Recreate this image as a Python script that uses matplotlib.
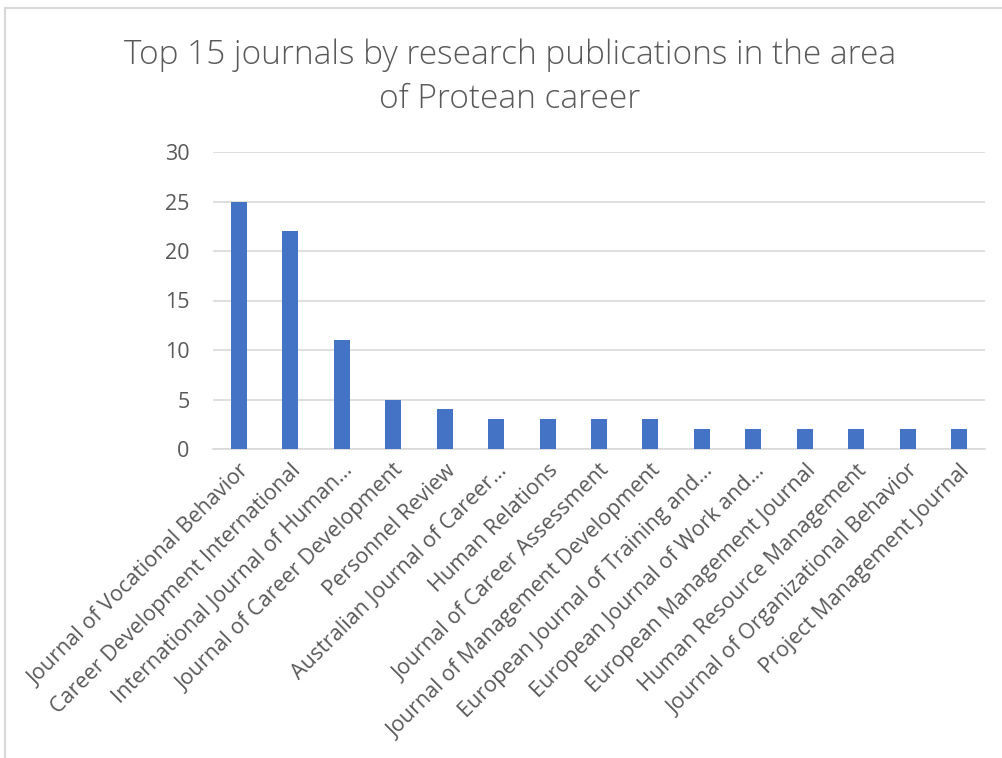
import matplotlib
matplotlib.use("Agg")
import matplotlib.pyplot as plt
from matplotlib.lines import Line2D

journals = [
    "Journal of Vocational Behavior",
    "Career Development International",
    "International Journal of Human…",
    "Journal of Career Development",
    "Personnel Review",
    "Australian Journal of Career…",
    "Human Relations",
    "Journal of Career Assessment",
    "Journal of Management Development",
    "European Journal of Training and…",
    "European Journal of Work and…",
    "European Management Journal",
    "Human Resource Management",
    "Journal of Organizational Behavior",
    "Project Management Journal",
]
publications = [25, 22, 11, 5, 4, 3, 3, 3, 3, 2, 2, 2, 2, 2, 2]
yticks = [0, 5, 10, 15, 20, 25, 30]
title = "Top 15 journals by research publications in the area\nof Protean career"

plt.rcParams['font.family'] = ['Open Sans', 'DejaVu Sans']
txt = '#595959'

fig = plt.figure(figsize=(10.03, 7.58), dpi=100)
ax = fig.add_axes([213/1003, 1-449/758, (985-213)/1003, (449-152)/758])

x = list(range(len(journals)))
ax.bar(x, publications, width=0.31, color='#4472c4', zorder=3)
ax.set_xlim(-0.5, len(journals)-0.5)
ax.set_ylim(0, 30)
ax.set_yticks(yticks)
ax.set_yticklabels([str(v) for v in yticks], fontsize=15.5, color=txt)
ax.set_xticks(x)
ax.set_xticklabels(journals, rotation=45, ha='right', va='top', rotation_mode='anchor',
                   fontsize=15.5, color=txt)
ax.tick_params(axis='both', length=0)
ax.tick_params(axis='x', pad=8)
ax.tick_params(axis='y', pad=17)
ax.grid(axis='y', color='#d9d9d9', linewidth=1.2, zorder=0)
for s in ['top', 'right', 'left']:
    ax.spines[s].set_visible(False)
ax.spines['bottom'].set_color('#d9d9d9')
ax.spines['bottom'].set_linewidth(1.2)

fig.text(510/1003, 1-77/758, title, ha='center', va='center', fontsize=24,
         fontweight='light', color=txt, linespacing=1.4)

# chart border (top and left)
fig.add_artist(Line2D([5.5/1003, 1], [1-8/758, 1-8/758], color='#d9d9d9', lw=1.5,
                      transform=fig.transFigure))
fig.add_artist(Line2D([5.5/1003, 5.5/1003], [0, 1-8/758], color='#d9d9d9', lw=1.5,
                      transform=fig.transFigure))

fig.savefig('out.png', dpi=100, facecolor='white')
